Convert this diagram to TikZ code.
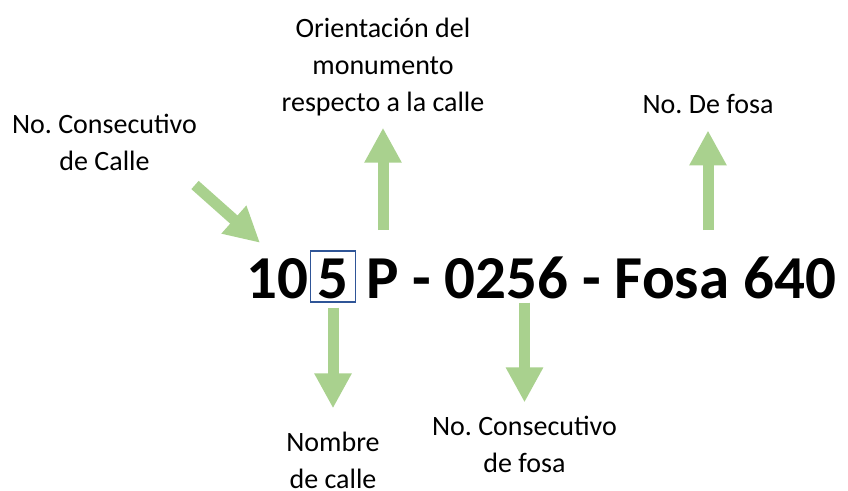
\documentclass[tikz,border=0pt]{standalone}
\usepackage{fontspec}
\setmainfont{Carlito}
\frenchspacing
\usetikzlibrary{arrows.meta}
\definecolor{verde}{HTML}{A9D18E}
\definecolor{azul}{HTML}{2F5597}
\tikzset{
  etiqueta/.style={font=\fontsize{28}{37}\selectfont, align=center, inner sep=0pt},
  codigo/.style={font=\fontsize{61}{61}\selectfont\bfseries, inner sep=0pt},
  flecha/.style={verde, line width=11pt, -{Triangle[width=35pt,length=35pt]}},
}
\begin{document}
\begin{tikzpicture}[x=1pt, y=-1pt]
    \useasboundingbox (0,0) rectangle (848,490);
    % Codigo
    \node[codigo, anchor=base west] (diez) at (246,298) {10};
    \node[codigo, anchor=base, draw=azul, line width=1.3pt, minimum width=45pt,
          text height=47pt, text depth=4pt] (cinco) at (333,298) {5};
    \node[codigo, anchor=base west] (resto) at (366,298) {P - 0256 - Fosa 640};

    % Etiquetas (base = ultima linea)
    \node[etiqueta, anchor=base] (calleno) at (104.5,170) {No. Consecutivo\\de Calle};
    \node[etiqueta, anchor=base] (orient) at (383,111) {Orientación del\\monumento\\respecto a la calle};
    \node[etiqueta, anchor=base] (fosano) at (708,113) {No. De fosa};
    \node[etiqueta, anchor=base] (nombre) at (333,488) {Nombre\\de calle};
    \node[etiqueta, anchor=base] (consfosa) at (524.5,472) {No. Consecutivo\\de fosa};

    % Flechas
    \coordinate (inicio) at (195,185);
    \draw[flecha] (inicio) -- ([shift={(14,-15)}]diez.north west);
    \draw[flecha, shorten <=26pt, shorten >=12pt] (resto.north -| orient.south) -- (orient.south);
    \draw[flecha, shorten <=26pt, shorten >=17pt] (resto.north -| fosano.south) -- (fosano.south);
    \draw[flecha, shorten <=5pt, shorten >=23pt] (cinco.south) -- (nombre.north);
    \draw[flecha, shorten <=4pt, shorten >=13pt] (resto.south -| consfosa.north) -- (consfosa.north);
  \end{tikzpicture}
\end{document}
